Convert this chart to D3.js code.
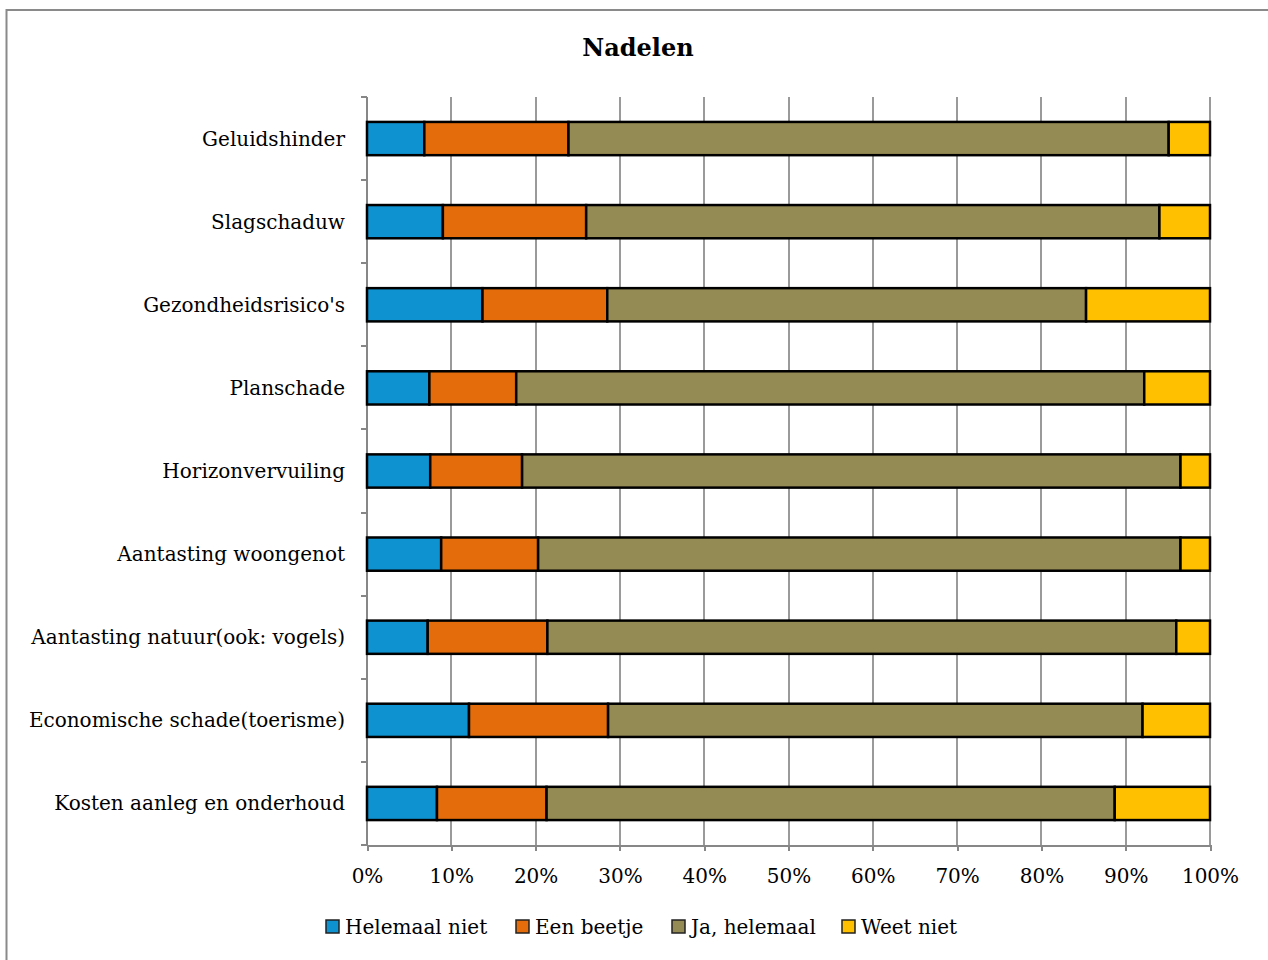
<!DOCTYPE html>
<meta charset="utf-8">
<head>
<style>
  body { margin: 0; background: #fff; }
  svg text { font-family: "DejaVu Serif", serif; fill: #000; }
  .axis path, .axis line { stroke: #878787; shape-rendering: crispEdges; }
  .grid line { stroke: #9a9a9a; stroke-width: 2px; shape-rendering: crispEdges; }
  .bar { stroke: #000; stroke-width: 2.5px; }
</style>
</head>
<body>
<script src="https://d3js.org/d3.v7.min.js"></script>
<script>
// categories, top to bottom
var categories = ["Geluidshinder", "Slagschaduw", "Gezondheidsrisico's", "Planschade",
  "Horizonvervuiling", "Aantasting woongenot", "Aantasting natuur(ook: vogels)",
  "Economische schade(toerisme)", "Kosten aanleg en onderhoud"];

var seriesNames = ["Helemaal niet", "Een beetje", "Ja, helemaal", "Weet niet"];
var seriesColors = ["#0e92d0", "#e46c0a", "#948a54", "#ffc000"];

// percentages per series
var helemaalNiet = [6.8, 9.0, 13.7, 7.4, 7.5, 8.8, 7.2, 12.1, 8.3];
var eenBeetje    = [17.1, 17.0, 14.8, 10.3, 10.9, 11.5, 14.2, 16.5, 13.0];
var jaHelemaal   = [71.2, 68.0, 56.8, 74.5, 78.1, 76.2, 74.6, 63.4, 67.4];
var weetNiet     = [4.9, 6.0, 14.7, 7.8, 3.5, 3.5, 4.0, 8.0, 11.3];

var xTicks = [0, 10, 20, 30, 40, 50, 60, 70, 80, 90, 100];

var W = 1268, H = 960;
var margin = {top: 97, left: 367, right: 58, bottom: 115};
var width = W - margin.left - margin.right,
    height = H - margin.top - margin.bottom;

var rows = categories.map(function(c, i) {
  return {cat: c, "Helemaal niet": helemaalNiet[i], "Een beetje": eenBeetje[i],
          "Ja, helemaal": jaHelemaal[i], "Weet niet": weetNiet[i]};
});
rows.forEach(function(r) {
  var t = d3.sum(seriesNames, function(k) { return r[k]; });
  seriesNames.forEach(function(k) { r[k] = r[k] / t * 100; });
});
var stacked = d3.stack().keys(seriesNames)(rows);

var x = d3.scaleLinear().domain([0, 100]).range([0, width]);
var y = d3.scaleBand().domain(categories).range([0, height]).paddingInner(0.6).paddingOuter(0.3);
var color = d3.scaleOrdinal().domain(seriesNames).range(seriesColors);

var svg = d3.select("body").append("svg").attr("width", W).attr("height", H);

// outer frame
svg.append("rect").attr("x", 6.5).attr("y", 10).attr("width", W + 10).attr("height", H + 10)
  .attr("fill", "none").attr("stroke", "#8a8a8a").attr("stroke-width", 2);

svg.append("text").attr("x", 638).attr("y", 56).attr("text-anchor", "middle")
  .style("font-size", "24px").style("font-weight", "bold").text("Nadelen");

var g = svg.append("g").attr("transform", "translate(" + margin.left + "," + margin.top + ")");

// gridlines
g.append("g").attr("class", "grid").selectAll("line")
  .data(xTicks.slice(1)).enter().append("line")
  .attr("x1", function(d) { return x(d); }).attr("x2", function(d) { return x(d); })
  .attr("y1", 0).attr("y2", height);

// x axis
var xAxis = g.append("g").attr("class", "axis")
  .attr("transform", "translate(0," + height + ")")
  .call(d3.axisBottom(x).tickValues(xTicks).tickSize(6).tickPadding(18)
    .tickFormat(function(d) { return d + "%"; }));
xAxis.select(".domain").attr("stroke-width", 2);
xAxis.selectAll(".tick line").attr("stroke-width", 2);
xAxis.selectAll("text").style("font-size", "20px").attr("fill", "#000").style("font-family", "DejaVu Serif");

// y axis with ticks between categories
var yAx = g.append("g").attr("class", "axis");
yAx.append("line").attr("x1", 0).attr("x2", 0).attr("y1", 0).attr("y2", height).attr("stroke-width", 2);
yAx.selectAll(".yt").data(d3.range(categories.length + 1)).enter().append("line")
  .attr("x1", -6).attr("x2", 0)
  .attr("y1", function(i) { return i * height / categories.length; })
  .attr("y2", function(i) { return i * height / categories.length; })
  .attr("stroke-width", 2);
yAx.selectAll(".ylab").data(categories).enter().append("text")
  .attr("x", -22).attr("y", function(d) { return y(d) + y.bandwidth() / 2; })
  .attr("dy", "0.35em").attr("text-anchor", "end")
  .style("font-size", "20px").text(function(d) { return d; });

// bars
g.selectAll(".series").data(stacked).enter().append("g")
  .attr("fill", function(d) { return color(d.key); })
  .selectAll("rect").data(function(d) { return d; }).enter().append("rect")
  .attr("class", "bar")
  .attr("x", function(d) { return x(d[0]); })
  .attr("width", function(d) { return x(d[1]) - x(d[0]); })
  .attr("y", function(d) { return y(d.data.cat); })
  .attr("height", y.bandwidth());

// legend
var legendX = [326, 516, 672, 842];
var lg = svg.append("g").selectAll("g").data(seriesNames).enter().append("g")
  .attr("transform", function(d, i) { return "translate(" + legendX[i] + ",920)"; });
lg.append("rect").attr("width", 13).attr("height", 13)
  .attr("fill", function(d) { return color(d); }).attr("stroke", "#222").attr("stroke-width", 1.5);
lg.append("text").attr("x", 19).attr("y", 7).attr("dy", "0.35em")
  .style("font-size", "20px").text(function(d) { return d; });
</script>
</body>
